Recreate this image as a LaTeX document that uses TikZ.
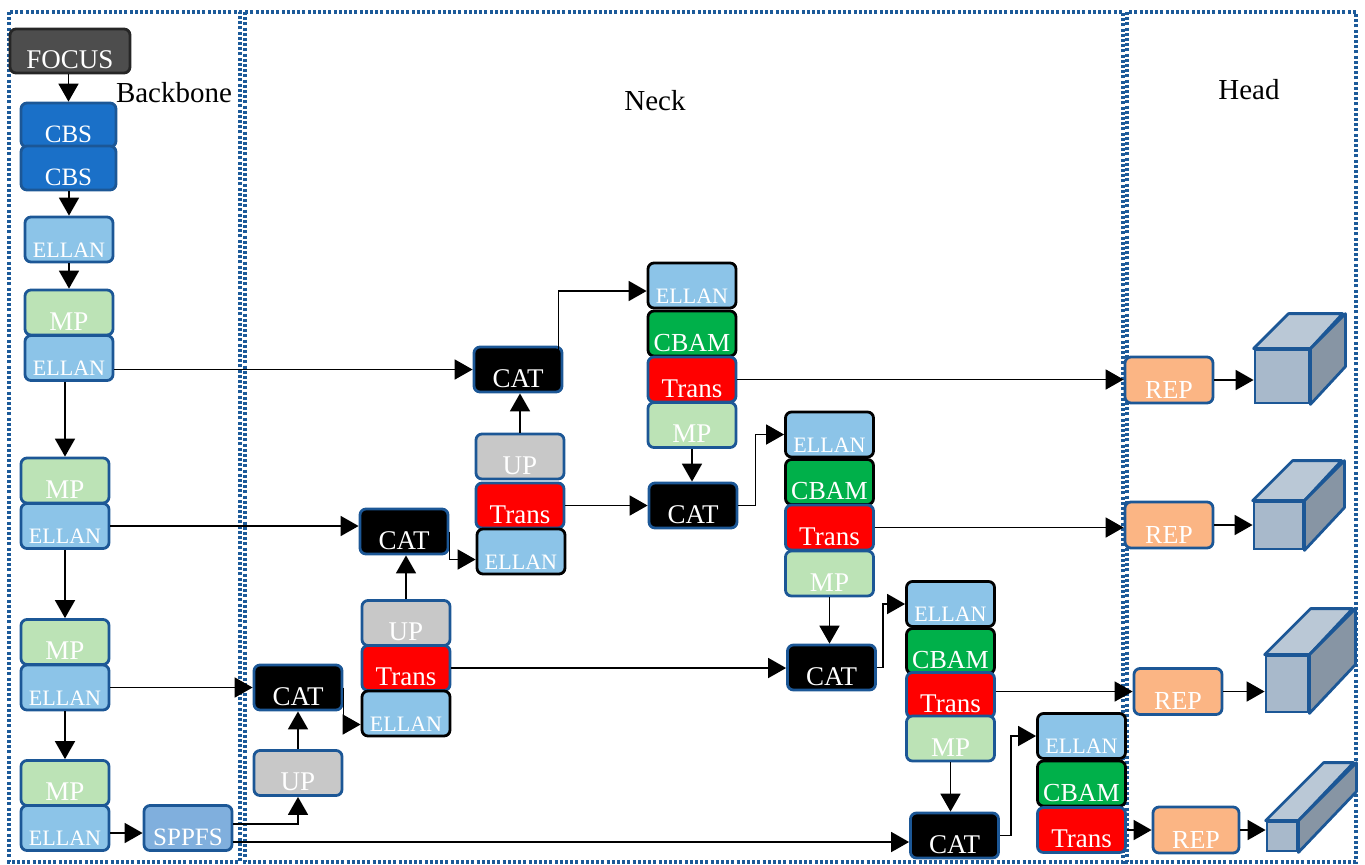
\documentclass[tikz,border=0pt]{standalone}
\usepackage{fontspec}
\setmainfont{Liberation Serif}
\usetikzlibrary{arrows.meta}
\definecolor{bordblue}{HTML}{1C5796}
\definecolor{framecol}{HTML}{1C5A99}
\definecolor{focusgray}{HTML}{4D4D4D}
\definecolor{cbsblue}{HTML}{1A70C8}
\definecolor{ellanblue}{HTML}{8CC4E8}
\definecolor{mpgreen}{HTML}{BCE3B6}
\definecolor{upgray}{HTML}{C8C8C8}
\definecolor{transred}{HTML}{FF0000}
\definecolor{cbamgreen}{HTML}{00B04A}
\definecolor{sppfsblue}{HTML}{80AFDD}
\definecolor{reporange}{HTML}{FBB584}
\definecolor{cubefront}{HTML}{A8B9CB}
\definecolor{cubetop}{HTML}{BAC8D6}
\definecolor{cuberight}{HTML}{8795A4}
\newcommand\headcube[6]{%
  \node[cubef, minimum width=#4, minimum height=#5] (#1) at (#2,#3) {};
  \draw[cubeline, fill=cubetop] (#1.north west) -- ++(#6,#6) -- ++(#4,0) -- (#1.north east) -- cycle;
  \draw[cubeline, fill=cuberight] (#1.north east) -- ++(#6,#6) -- ++(0,-#5) -- (#1.south east) -- cycle;
}
\begin{document}
\begin{tikzpicture}[x=0.5pt,y=-0.5pt,
  frame/.style={draw=framecol, line width=1.6pt, dash pattern=on 1.5pt off 1.1pt},
  blk/.style={draw=bordblue, line width=1.4pt, rounded corners=3pt, minimum width=44pt,
    minimum height=22.5pt, inner sep=0pt, text=white, font=\fontsize{13.5}{13.5}\selectfont,
    text height=17.5pt, text depth=0pt},
  focusbox/.style={blk, draw=black!85, fill=focusgray, minimum width=60pt, minimum height=22pt, text height=17pt},
  cbsbox/.style={blk, fill=cbsblue, minimum width=47.5pt, minimum height=22pt, text height=17pt, font=\fontsize{12.5}{12.5}\selectfont},
  ellanbox/.style={blk, fill=ellanblue, font=\fontsize{11}{11}\selectfont},
  ellanbk/.style={ellanbox, draw=black},
  mpbox/.style={blk, fill=mpgreen},
  upbox/.style={blk, fill=upgray},
  catbox/.style={blk, fill=black},
  transbox/.style={blk, fill=transred},
  cbambox/.style={blk, draw=black, fill=cbamgreen, font=\fontsize{13}{13}\selectfont},
  sppfsbox/.style={blk, fill=sppfsblue, font=\fontsize{12.5}{12.5}\selectfont},
  repbox/.style={blk, fill=reporange, minimum height=23pt, text height=18pt, font=\fontsize{13}{13}\selectfont},
  cubef/.style={draw=bordblue, line width=1.4pt, fill=cubefront, inner sep=0pt},
  cubeline/.style={draw=bordblue, line width=1.4pt, line join=round},
  lbl/.style={font=\fontsize{14.5}{15}\selectfont, inner sep=0pt},
  arr/.style={-{Triangle[length=9pt,width=10pt]}, line width=0.9pt}
]
\useasboundingbox (0,0) rectangle (1365,864);
% frames
\draw[frame] (9,12) rectangle (240,862);
\draw[frame] (245,12) rectangle (1123,862);
\draw[frame] (1127,12) rectangle (1356,862);
% labels
\node[lbl] (lbback) at (174,93) {Backbone};
\node[lbl] (lbneck) at (655,101) {Neck};
\node[lbl] (lbhead) at (1249,90) {Head};
% backbone
\node[focusbox] (focus) at (70,51) {FOCUS};
\node[cbsbox] (cbs1) at (68.5,125) {CBS};
\node[cbsbox] (cbs2) at (68.5,168) {CBS};
\node[ellanbox] (e1) at (69,239.5) {ELLAN};
\node[mpbox] (mp1) at (69,312.5) {MP};
\node[ellanbox] (e2) at (69,358) {ELLAN};
\node[mpbox] (mp2) at (65,480.5) {MP};
\node[ellanbox] (e3) at (65,526) {ELLAN};
\node[mpbox] (mp3) at (65,642) {MP};
\node[ellanbox] (e4) at (65,687.5) {ELLAN};
\node[mpbox] (mp4) at (65,783) {MP};
\node[ellanbox] (e5) at (65,828) {ELLAN};
\node[sppfsbox] (sppfs) at (188,828) {SPPFS};
% neck
\node[catbox] (cat1) at (298,687.5) {CAT};
\node[upbox] (up1) at (298,773) {UP};
\node[upbox] (up2) at (406,623) {UP};
\node[transbox] (tr1) at (406,668) {Trans};
\node[ellanbk] (ea) at (406,713.5) {ELLAN};
\node[catbox] (cat2) at (404,531.5) {CAT};
\node[upbox] (up3) at (520,456.5) {UP};
\node[transbox] (tr2) at (520,505.5) {Trans};
\node[ellanbk] (eb) at (521,551.5) {ELLAN};
\node[catbox] (cat3) at (518,369.5) {CAT};
\node[ellanbk] (ec) at (692,285.5) {ELLAN};
\node[cbambox] (cbc) at (692,333.5) {CBAM};
\node[transbox] (trc) at (692,379.5) {Trans};
\node[mpbox] (mpc) at (692,425) {MP};
\node[catbox] (cat4) at (693,505.5) {CAT};
\node[ellanbk] (ed) at (829.5,434.5) {ELLAN};
\node[cbambox] (cbd) at (829.5,482) {CBAM};
\node[transbox] (trd) at (829.5,527.5) {Trans};
\node[mpbox] (mpd) at (829.5,573.5) {MP};
\node[catbox] (cat5) at (831.5,667.5) {CAT};
\node[ellanbk] (ee) at (950.5,604) {ELLAN};
\node[cbambox] (cbe) at (950.5,651) {CBAM};
\node[transbox] (tre) at (950.5,695) {Trans};
\node[mpbox] (mpe) at (950.5,738.5) {MP};
\node[catbox] (cat6) at (954.5,835.5) {CAT};
\node[ellanbk] (ef) at (1081.5,736) {ELLAN};
\node[cbambox] (cbf) at (1081.5,783.5) {CBAM};
\node[transbox] (trf) at (1081.5,830) {Trans};
% head
\node[repbox] (rep1) at (1169,380) {REP};
\node[repbox] (rep2) at (1169,525) {REP};
\node[repbox] (rep3) at (1178,691.5) {REP};
\node[repbox, minimum width=43pt] (rep4) at (1196,830) {REP};
\headcube{cube1}{1282}{376.5}{27pt}{26.5pt}{17.5pt}
\headcube{cube2}{1278.5}{525.5}{24.5pt}{23.5pt}{20pt}
\headcube{cube3}{1287}{684}{21pt}{28pt}{23pt}
\headcube{cube4}{1282}{836.5}{15pt}{14.5pt}{29pt}
% arrows backbone
\draw[arr] (focus.south -| cbs1.north) -- (cbs1.north);
\draw[arr] (cbs2.south -| e1.north) -- (e1.north);
\draw[arr] (e1.south) -- (mp1.north);
\draw[arr] (e2.south -| mp2.north) -- (mp2.north);
\draw[arr] (e3.south) -- (mp3.north);
\draw[arr] (e4.south) -- (mp4.north);
\draw[arr] ([yshift=-2.5pt]e5.east) -- ([yshift=-2.5pt]e5.east -| sppfs.west);
% arrows neck
\draw[arr] (e2.east |- cat3.west) -- (cat3.west);
\draw[arr] (e3.east) -- (e3.east -| cat2.west);
\draw[arr] (e4.east) -- (cat1.west);
\draw[arr] ([yshift=2pt]sppfs.east) -| (up1.south);
\draw[arr] ([yshift=-7pt]sppfs.east) -- ([yshift=-7pt]sppfs.east -| cat6.west);
\draw[arr] (up1.north) -- (cat1.south);
\draw[arr] (cat1.east) |- ([yshift=-5.5pt]ea.west);
\draw[arr] (up2.north) -- (up2.north |- cat2.south);
\draw[arr] (cat2.east) |- ([yshift=-4pt]eb.west);
\draw[arr] (up3.north) -- (up3.north |- cat3.south);
\draw[arr] ([xshift=-2.5pt]cat3.east) |- ([yshift=-2.75pt]ec.west);
\draw[arr] (tr2.east) -- (cat4.west);
\draw[arr] (mpc.south) -- (mpc.south |- cat4.north);
\draw[arr] (cat4.east) -- ++(8.5pt,0) |- (ed.west);
\draw[arr] (mpd.south) -- (mpd.south |- cat5.north);
\draw[arr] (tr1.east) -- (tr1.east -| cat5.west);
\draw[arr] (cat5.east) -- ++(3pt,0) |- (ee.west);
\draw[arr] (mpe.south) -- (mpe.south |- cat6.north);
\draw[arr] (cat6.east) -- ++(5.5pt,0) |- (ef.west);
% arrows to head
\draw[arr] (trc.east) -- (trc.east -| rep1.west);
\draw[arr] (trd.east) -- (trd.east -| rep2.west);
\draw[arr] (tre.east |- rep3.west) -- (rep3.west);
\draw[arr] (trf.east) -- (rep4.west);
\draw[arr] (rep1.east) -- (rep1.east -| cube1.west);
\draw[arr] (rep2.east) -- (rep2.east -| cube2.west);
\draw[arr] (rep3.east) -- (rep3.east -| cube3.west);
\draw[arr] (rep4.east) -- (rep4.east -| cube4.west);
\end{tikzpicture}
\end{document}
